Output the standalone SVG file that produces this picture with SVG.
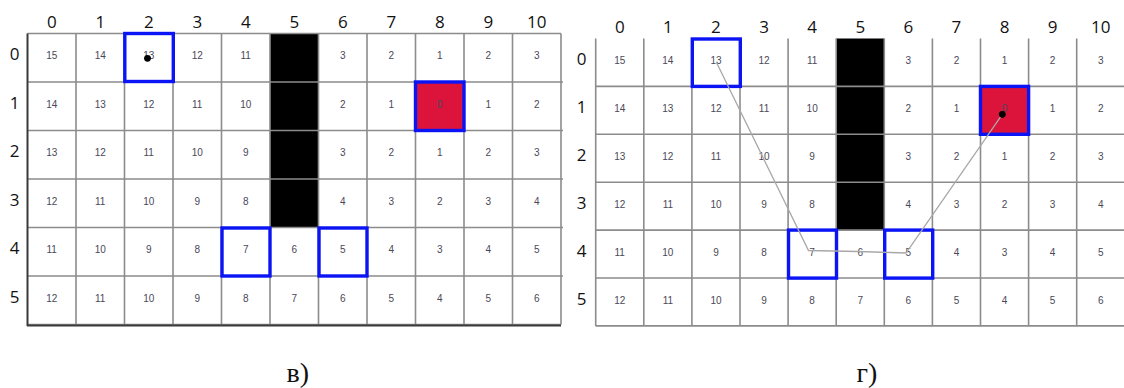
<svg xmlns="http://www.w3.org/2000/svg" width="1124" height="388" viewBox="0 0 1124 388">
<style>
.bg{fill:#fff}
.gl{stroke:#8c8c8c;stroke-width:1.6;fill:none}
.n{font-family:"Liberation Sans",Arial,sans-serif;font-size:10px;fill:#4a4858;text-anchor:middle}
.ax{font-family:"Open Sans","Liberation Sans",sans-serif;font-size:17px;fill:#111;text-anchor:middle}
.blk{fill:#000}
.red{fill:#dc143c}
.sel{fill:none;stroke:#0a14f5;stroke-width:3.4}
.dot{fill:#000}
.path{fill:none;stroke:#a8a8a8;stroke-width:1.3}
.cap{font-family:"Liberation Serif","Times New Roman",serif;font-size:28px;fill:#111}
</style>
<rect class="bg" x="0" y="0" width="1124" height="388"/>

<!-- LEFT GRID -->
<g id="left-grid">
<g id="left-special">
<rect class="blk" x="270" y="33.5" width="48.5" height="194"/>
<rect class="red" x="415.5" y="82" width="48.5" height="48.5"/>
</g>
<g id="left-lines">
<path class="gl" d="M27.5 33.5H561M27.5 82H563M27.5 130.5H563M27.5 179H563M27.5 227.5H563M27.5 276H563M27.5 324.5H561
M76 33.5V324.5M124.5 33.5V324.5M173 33.5V324.5M221.5 33.5V324.5M270 33.5V324.5M318.5 33.5V324.5M367 33.5V324.5M415.5 33.5V324.5M464 33.5V324.5M512.5 33.5V324.5M561 33.5V324.5"/>
<path d="M27.5 33.5V326M27 325.5H561" stroke="#3a3a3a" stroke-width="2" fill="none"/>
</g>
<g id="left-axes">
<text class="ax" x="51.75" y="28">0</text><text class="ax" x="100.25" y="28">1</text><text class="ax" x="148.75" y="28">2</text><text class="ax" x="197.25" y="28">3</text><text class="ax" x="245.75" y="28">4</text><text class="ax" x="294.25" y="28">5</text><text class="ax" x="342.75" y="28">6</text><text class="ax" x="391.25" y="28">7</text><text class="ax" x="439.75" y="28">8</text><text class="ax" x="488.25" y="28">9</text><text class="ax" x="536.75" y="28">10</text>
<text class="ax" x="14.7" y="60">0</text><text class="ax" x="14.7" y="108.5">1</text><text class="ax" x="14.7" y="157">2</text><text class="ax" x="14.7" y="205.5">3</text><text class="ax" x="14.7" y="254">4</text><text class="ax" x="14.7" y="302.5">5</text>
</g>
<g id="left-cells">
<g transform="translate(0,59.25)">
<text class="n" x="51.75">15</text><text class="n" x="100.25">14</text><text class="n" x="148.75">13</text><text class="n" x="197.25">12</text><text class="n" x="245.75">11</text><text class="n" x="342.75">3</text><text class="n" x="391.25">2</text><text class="n" x="439.75">1</text><text class="n" x="488.25">2</text><text class="n" x="536.75">3</text>
</g>
<g transform="translate(0,107.75)">
<text class="n" x="51.75">14</text><text class="n" x="100.25">13</text><text class="n" x="148.75">12</text><text class="n" x="197.25">11</text><text class="n" x="245.75">10</text><text class="n" x="342.75">2</text><text class="n" x="391.25">1</text><text class="n" x="439.75">0</text><text class="n" x="488.25">1</text><text class="n" x="536.75">2</text>
</g>
<g transform="translate(0,156.25)">
<text class="n" x="51.75">13</text><text class="n" x="100.25">12</text><text class="n" x="148.75">11</text><text class="n" x="197.25">10</text><text class="n" x="245.75">9</text><text class="n" x="342.75">3</text><text class="n" x="391.25">2</text><text class="n" x="439.75">1</text><text class="n" x="488.25">2</text><text class="n" x="536.75">3</text>
</g>
<g transform="translate(0,204.75)">
<text class="n" x="51.75">12</text><text class="n" x="100.25">11</text><text class="n" x="148.75">10</text><text class="n" x="197.25">9</text><text class="n" x="245.75">8</text><text class="n" x="342.75">4</text><text class="n" x="391.25">3</text><text class="n" x="439.75">2</text><text class="n" x="488.25">3</text><text class="n" x="536.75">4</text>
</g>
<g transform="translate(0,253.25)">
<text class="n" x="51.75">11</text><text class="n" x="100.25">10</text><text class="n" x="148.75">9</text><text class="n" x="197.25">8</text><text class="n" x="245.75">7</text><text class="n" x="294.25">6</text><text class="n" x="342.75">5</text><text class="n" x="391.25">4</text><text class="n" x="439.75">3</text><text class="n" x="488.25">4</text><text class="n" x="536.75">5</text>
</g>
<g transform="translate(0,301.75)">
<text class="n" x="51.75">12</text><text class="n" x="100.25">11</text><text class="n" x="148.75">10</text><text class="n" x="197.25">9</text><text class="n" x="245.75">8</text><text class="n" x="294.25">7</text><text class="n" x="342.75">6</text><text class="n" x="391.25">5</text><text class="n" x="439.75">4</text><text class="n" x="488.25">5</text><text class="n" x="536.75">6</text>
</g>
</g>
<g id="left-start"><rect class="sel" x="124.8" y="33.5" width="48.5" height="48"/><circle class="dot" cx="147.5" cy="58.3" r="3.4"/></g>
<g id="left-goal"><rect class="sel" x="415.5" y="82" width="48.5" height="48.5"/></g>
<g id="left-wp1"><rect class="sel" x="222" y="228" width="48" height="48"/></g>
<g id="left-wp2"><rect class="sel" x="319" y="228" width="48" height="48"/></g>
</g>

<!-- RIGHT GRID -->
<g id="right-grid">
<g id="right-special">
<rect class="blk" x="836.2" y="38.5" width="48.1" height="191.6"/>
<rect class="red" x="980.5" y="86.4" width="48.1" height="47.9"/>
</g>
<g id="right-lines">
<path class="gl" d="M595.7 86.4H1124M595.7 134.3H1124M595.7 182.2H1124M595.7 230.1H1124M595.7 278H1124M595.7 325.9H1124
M595.7 38.5V325.9M643.8 38.5V325.9M691.9 38.5V325.9M740 38.5V325.9M788.1 38.5V325.9M836.2 38.5V325.9M884.3 38.5V325.9M932.4 38.5V325.9M980.5 38.5V325.9M1028.6 38.5V325.9M1076.7 38.5V325.9"/>
</g>
<g id="right-axes">
<text class="ax" x="619.75" y="32.5">0</text><text class="ax" x="667.85" y="32.5">1</text><text class="ax" x="715.95" y="32.5">2</text><text class="ax" x="764.05" y="32.5">3</text><text class="ax" x="812.15" y="32.5">4</text><text class="ax" x="860.25" y="32.5">5</text><text class="ax" x="908.35" y="32.5">6</text><text class="ax" x="956.45" y="32.5">7</text><text class="ax" x="1004.55" y="32.5">8</text><text class="ax" x="1052.65" y="32.5">9</text><text class="ax" x="1100.75" y="32.5">10</text>
<text class="ax" x="581.7" y="65">0</text><text class="ax" x="581.7" y="112.9">1</text><text class="ax" x="581.7" y="160.8">2</text><text class="ax" x="581.7" y="208.7">3</text><text class="ax" x="581.7" y="256.6">4</text><text class="ax" x="581.7" y="304.5">5</text>
</g>
<g id="right-cells">
<g transform="translate(0,64)">
<text class="n" x="619.75">15</text><text class="n" x="667.85">14</text><text class="n" x="715.95">13</text><text class="n" x="764.05">12</text><text class="n" x="812.15">11</text><text class="n" x="908.35">3</text><text class="n" x="956.45">2</text><text class="n" x="1004.55">1</text><text class="n" x="1052.65">2</text><text class="n" x="1100.75">3</text>
</g>
<g transform="translate(0,111.9)">
<text class="n" x="619.75">14</text><text class="n" x="667.85">13</text><text class="n" x="715.95">12</text><text class="n" x="764.05">11</text><text class="n" x="812.15">10</text><text class="n" x="908.35">2</text><text class="n" x="956.45">1</text><text class="n" x="1004.55">0</text><text class="n" x="1052.65">1</text><text class="n" x="1100.75">2</text>
</g>
<g transform="translate(0,159.8)">
<text class="n" x="619.75">13</text><text class="n" x="667.85">12</text><text class="n" x="715.95">11</text><text class="n" x="764.05">10</text><text class="n" x="812.15">9</text><text class="n" x="908.35">3</text><text class="n" x="956.45">2</text><text class="n" x="1004.55">1</text><text class="n" x="1052.65">2</text><text class="n" x="1100.75">3</text>
</g>
<g transform="translate(0,207.7)">
<text class="n" x="619.75">12</text><text class="n" x="667.85">11</text><text class="n" x="715.95">10</text><text class="n" x="764.05">9</text><text class="n" x="812.15">8</text><text class="n" x="908.35">4</text><text class="n" x="956.45">3</text><text class="n" x="1004.55">2</text><text class="n" x="1052.65">3</text><text class="n" x="1100.75">4</text>
</g>
<g transform="translate(0,255.6)">
<text class="n" x="619.75">11</text><text class="n" x="667.85">10</text><text class="n" x="715.95">9</text><text class="n" x="764.05">8</text><text class="n" x="812.15">7</text><text class="n" x="860.25">6</text><text class="n" x="908.35">5</text><text class="n" x="956.45">4</text><text class="n" x="1004.55">3</text><text class="n" x="1052.65">4</text><text class="n" x="1100.75">5</text>
</g>
<g transform="translate(0,303.5)">
<text class="n" x="619.75">12</text><text class="n" x="667.85">11</text><text class="n" x="715.95">10</text><text class="n" x="764.05">9</text><text class="n" x="812.15">8</text><text class="n" x="860.25">7</text><text class="n" x="908.35">6</text><text class="n" x="956.45">5</text><text class="n" x="1004.55">4</text><text class="n" x="1052.65">5</text><text class="n" x="1100.75">6</text>
</g>
</g>
<g id="right-start"><rect class="sel" x="692.3" y="39" width="48" height="47.4"/></g>
<g id="right-goal"><rect class="sel" x="980.5" y="86.4" width="48.1" height="47.9"/></g>
<g id="right-wp1"><rect class="sel" x="788.5" y="230.1" width="48" height="48"/></g>
<g id="right-wp2"><rect class="sel" x="884.7" y="230.1" width="48" height="48"/></g>
</g>

<g id="connectors">
<polyline class="path" points="716.5,62.5 808.5,250.5 858,251.5 906,253 1002.3,114.3"/>
</g>
<circle class="dot" cx="1002.3" cy="114.3" r="3.4"/>

<g id="captions">
<text class="cap" x="286.5" y="382">в)</text>
<text class="cap" x="856.5" y="382">г)</text>
</g>
</svg>
